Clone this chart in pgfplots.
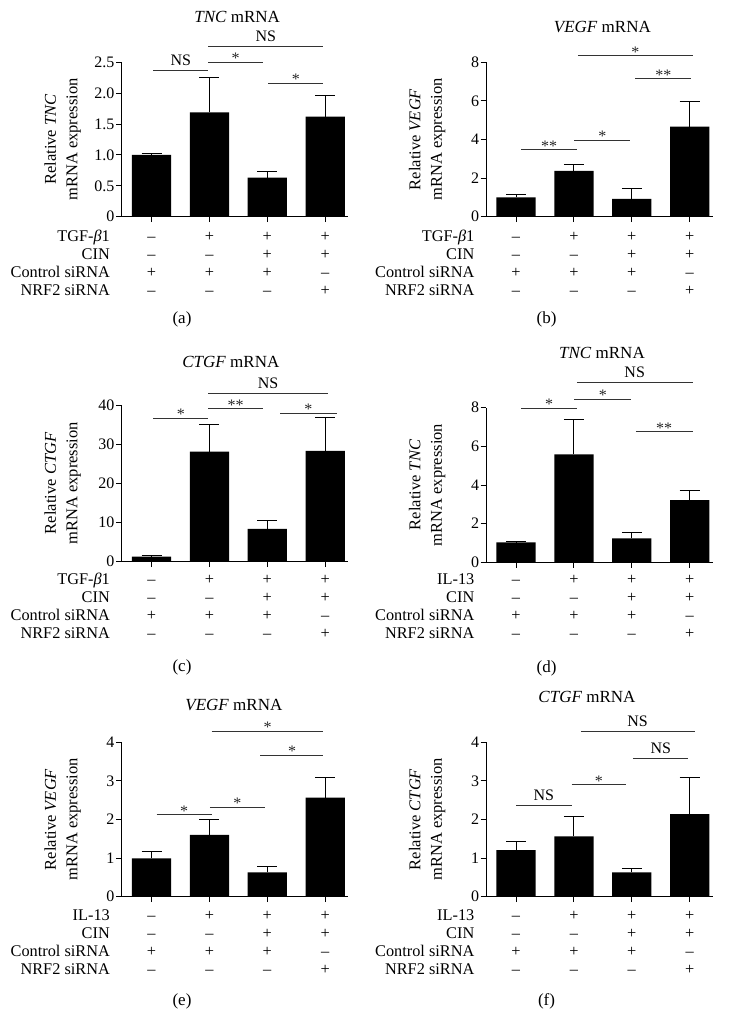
\documentclass[border=0pt]{standalone}
\usepackage{fontspec}
\setmainfont{Liberation Serif}
\usepackage{pgfplots}
\pgfplotsset{compat=1.18}

\newcommand\txt{\fontsize{16.3}{21.6}\selectfont}
\newcommand\ttl{\fontsize{17}{20}\selectfont}
\newcommand\ylb{\fontsize{16.5}{21.6}\selectfont}
\newcommand\nsf{\fontsize{16}{18}\selectfont}
\newcommand\tck{\fontsize{16}{18}\selectfont}
\newcommand\stt{\fontsize{16}{16}\selectfont}

\pgfplotsset{
  panel/.style={
    scale only axis, width=226.3pt,
    xmin=-0.515, xmax=3.394, ymin=0,
    axis lines=left, axis line style={-, line width=1.2pt, black},
    xtick={0,1,2,3}, xticklabels={},
    tick align=outside, major tick length=5.5pt,
    tick style={black, line width=1pt},
    yticklabel style={font=\tck, inner sep=1.5pt},
    /pgf/number format/assume math mode=true,
    clip=false, anchor=south west,
  },
  bars/.style={ybar, bar width=39.3pt, fill=black, draw=none,
    error bars/y dir=plus, error bars/y explicit,
    error bars/error bar style={line width=1pt, black},
    error bars/error mark options={rotate=90, black, line width=1pt, mark size=10pt}},
  sig/.style={sharp plot, no marks, draw=black!80, line width=1pt},
}
\tikzset{
  rowtxt/.style={anchor=base, font=\txt, inner sep=0pt},
  nstxt/.style={anchor=base, yshift=5pt, font=\nsf, inner sep=0pt},
  sttxt/.style={anchor=base, yshift=-1.5pt, font=\stt, inner sep=0pt, text=black!85},
}

\def\rowoff{25pt}
\newcommand\signcol[5]{%
 \node[rowtxt] at (axis cs:#1,0) [yshift={-\rowoff}] {#2};
 \node[rowtxt] at (axis cs:#1,0) [yshift={-\rowoff-18pt}] {#3};
 \node[rowtxt] at (axis cs:#1,0) [yshift={-\rowoff-36pt}] {#4};
 \node[rowtxt] at (axis cs:#1,0) [yshift={-\rowoff-54pt}] {#5};}
\newcommand\rowsall[1]{%
 \signcol{0}{–}{–}{+}{–}
 \signcol{1}{+}{–}{+}{–}
 \signcol{2}{+}{+}{+}{–}
 \signcol{3}{+}{+}{–}{+}
 \node[rowtxt, anchor=base east] at (rel axis cs:0,0) [xshift=-11.7pt, yshift={-\rowoff}] {#1};
 \node[rowtxt, anchor=base east] at (rel axis cs:0,0) [xshift=-11.7pt, yshift={-\rowoff-18pt}] {CIN};
 \node[rowtxt, anchor=base east] at (rel axis cs:0,0) [xshift=-11.7pt, yshift={-\rowoff-36pt}] {Control siRNA};
 \node[rowtxt, anchor=base east] at (rel axis cs:0,0) [xshift=-11.7pt, yshift={-\rowoff-54pt}] {NRF2 siRNA};}
\newcommand\sig[6]{%
 \addplot[sig] coordinates {(#1,#3) (#2,#3)};
 \node[#5] at (axis cs:#4,#3) {#6};}
\newcommand\ylab[1]{%
 \node[font=\ylb, rotate=90, align=center] at (rel axis cs:-0.2607,0.5) {Relative \textit{#1}\\mRNA expression};}

\begin{document}
\begin{tikzpicture}
\path[use as bounding box] (0pt,0pt) rectangle (729pt,-1035pt);

% (a)
\def\rowoff{25pt}
\begin{axis}[panel, at={(121.7pt,-216.7pt)}, height=154.4pt, ymax=2.5,
  ytick={0,0.5,1,1.5,2,2.5}, yticklabels={0,0.5,1.0,1.5,2.0,2.5}]
\addplot[bars] coordinates {(0,1.00) +- (0,0.026) (1,1.69) +- (0,0.567) (2,0.632) +- (0,0.097) (3,1.62) +- (0,0.35)};
\sig{0.03}{0.98}{2.375}{0.505}{nstxt}{NS}
\sig{0.98}{1.93}{2.5}{1.455}{sttxt}{*}
\sig{0.98}{2.97}{2.75}{1.975}{nstxt}{NS}
\sig{2.02}{2.97}{2.16}{2.495}{sttxt}{*}
\node[font=\ttl] at (rel axis cs:0.5,1) [xshift=2.3pt, yshift=45.3pt] {\textit{TNC} mRNA};
\ylab{TNC}
\rowsall{TGF-\textit{β}1}
\node[font=\ttl] at (rel axis cs:0,0) [xshift=60.3pt, yshift=-103pt] {(a)};
\end{axis}

% (b)
\def\rowoff{25pt}
\begin{axis}[panel, at={(486.2pt,-216.7pt)}, height=154.4pt, ymax=8,
  ytick={0,2,4,6,8}]
\addplot[bars] coordinates {(0,1.00) +- (0,0.175) (1,2.37) +- (0,0.33) (2,0.93) +- (0,0.54) (3,4.67) +- (0,1.29)};
\sig{0.09}{1.05}{3.46}{0.57}{sttxt}{**}
\sig{1.01}{1.97}{3.96}{1.49}{sttxt}{*}
\sig{1.07}{3.05}{8.33}{2.06}{sttxt}{*}
\sig{2.06}{3.03}{7.14}{2.545}{sttxt}{**}
\node[font=\ttl] at (rel axis cs:0.5,1) [xshift=3pt, yshift=35pt] {\textit{VEGF} mRNA};
\ylab{VEGF}
\rowsall{TGF-\textit{β}1}
\node[font=\ttl] at (rel axis cs:0,0) [xshift=60.3pt, yshift=-103pt] {(b)};
\end{axis}

% (c)
\def\rowoff{22.5pt}
\begin{axis}[panel, at={(121.7pt,-561.7pt)}, height=156.7pt, ymax=40,
  ytick={0,10,20,30,40}]
\addplot[bars] coordinates {(0,1.28) +- (0,0.22) (1,28.1) +- (0,7.0) (2,8.4) +- (0,2.2) (3,28.3) +- (0,8.5)};
\sig{0.03}{0.98}{36.6}{0.505}{sttxt}{*}
\sig{0.98}{1.93}{39.0}{1.455}{sttxt}{**}
\sig{0.98}{3.05}{43.0}{2.015}{nstxt}{NS}
\sig{2.22}{3.20}{37.9}{2.71}{sttxt}{*}
\node[font=\ttl] at (rel axis cs:0.5,1) [xshift=-4pt, yshift=43.3pt] {\textit{CTGF} mRNA};
\ylab{CTGF}
\rowsall{TGF-\textit{β}1}
\node[font=\ttl] at (rel axis cs:0,0) [xshift=60.3pt, yshift=-106pt] {(c)};
\end{axis}

% (d)
\def\rowoff{22.5pt}
\begin{axis}[panel, at={(486.2pt,-562.3pt)}, height=154.6pt, ymax=8,
  ytick={0,2,4,6,8}]
\addplot[bars] coordinates {(0,1.03) +- (0,0.04) (1,5.59) +- (0,1.81) (2,1.24) +- (0,0.31) (3,3.22) +- (0,0.49)};
\sig{0.09}{1.05}{7.98}{0.57}{sttxt}{*}
\sig{1.01}{1.99}{8.43}{1.5}{sttxt}{*}
\sig{1.05}{3.05}{9.3}{2.05}{nstxt}{NS}
\sig{2.07}{3.05}{6.76}{2.56}{sttxt}{**}
\node[font=\ttl] at (rel axis cs:0.5,1) [xshift=2.6pt, yshift=54.4pt] {\textit{TNC} mRNA};
\ylab{TNC}
\rowsall{IL-13}
\node[font=\ttl] at (rel axis cs:0,0) [xshift=60.3pt, yshift=-106pt] {(d)};
\end{axis}

% (e)
\def\rowoff{24pt}
\begin{axis}[panel, at={(121.7pt,-896.7pt)}, height=154.4pt, ymax=4,
  ytick={0,1,2,3,4}]
\addplot[bars] coordinates {(0,0.99) +- (0,0.18) (1,1.60) +- (0,0.39) (2,0.63) +- (0,0.16) (3,2.57) +- (0,0.52)};
\sig{0.09}{1.04}{2.12}{0.565}{sttxt}{*}
\sig{1.01}{1.96}{2.32}{1.485}{sttxt}{*}
\sig{1.04}{2.97}{4.29}{2.005}{sttxt}{*}
\sig{1.88}{2.97}{3.66}{2.43}{sttxt}{*}
\node[font=\ttl] at (rel axis cs:0.5,1) [xshift=-1pt, yshift=37.3pt] {\textit{VEGF} mRNA};
\ylab{VEGF}
\rowsall{IL-13}
\node[font=\ttl] at (rel axis cs:0,0) [xshift=60.3pt, yshift=-105pt] {(e)};
\end{axis}

% (f)
\def\rowoff{24pt}
\begin{axis}[panel, at={(486.2pt,-896.7pt)}, height=154.4pt, ymax=4,
  ytick={0,1,2,3,4}]
\addplot[bars] coordinates {(0,1.21) +- (0,0.22) (1,1.56) +- (0,0.51) (2,0.63) +- (0,0.10) (3,2.14) +- (0,0.94)};
\sig{0.0}{0.96}{2.36}{0.48}{nstxt}{NS}
\sig{0.96}{1.90}{2.90}{1.43}{sttxt}{*}
\sig{1.12}{3.09}{4.28}{2.1}{nstxt}{NS}
\sig{2.02}{2.97}{3.58}{2.5}{nstxt}{NS}
\node[font=\ttl] at (rel axis cs:0.5,1) [xshift=-12.4pt, yshift=45.6pt] {\textit{CTGF} mRNA};
\ylab{CTGF}
\rowsall{IL-13}
\node[font=\ttl] at (rel axis cs:0,0) [xshift=60.3pt, yshift=-105pt] {(f)};
\end{axis}
\end{tikzpicture}
\end{document}
